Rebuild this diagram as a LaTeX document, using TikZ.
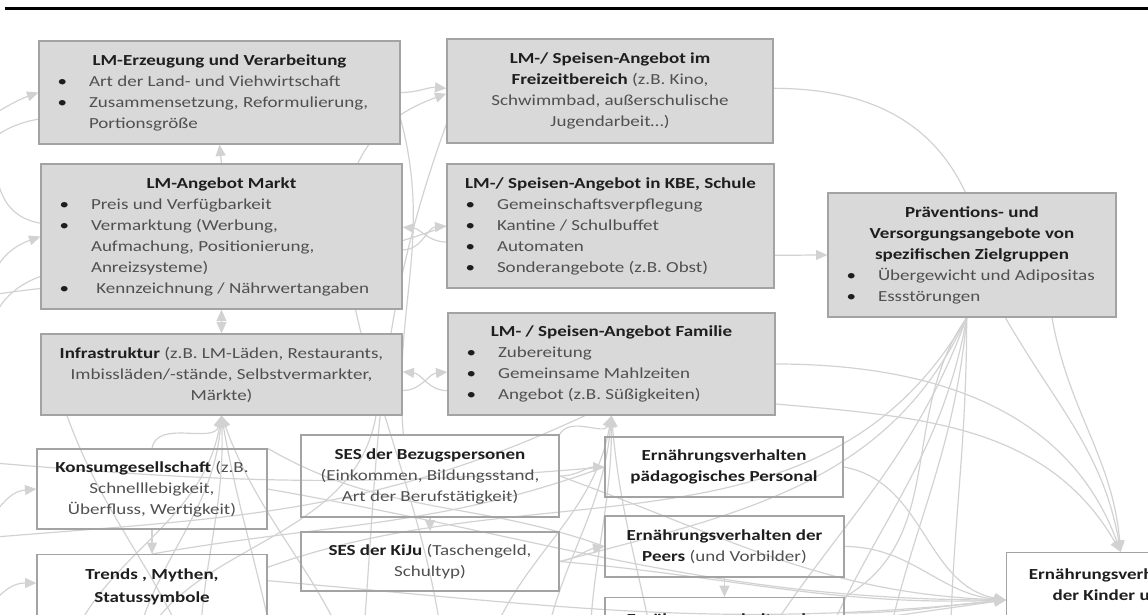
\documentclass[tikz,border=0pt]{standalone}
\usepackage{fontspec}
\setmainfont[FakeStretch=1.24]{Carlito}
\usetikzlibrary{arrows.meta}
\definecolor{boxfill}{HTML}{D9D9D9}
\definecolor{boxline}{HTML}{A3A3A3}
\definecolor{connc}{HTML}{D2D2D2}
\definecolor{titlec}{HTML}{1E1E1E}
\definecolor{bodyc}{HTML}{505050}
\pgfdeclarelayer{bg}
\pgfsetlayers{bg,main}
% bullet line, continuation line, bold title
\newcommand{\bl}[1]{\hspace*{14pt}\makebox[23.5pt][l]{\color{titlec}\textbullet}#1}
\newcommand{\ct}[1]{\hspace*{37.5pt}#1}
\newcommand{\tb}[1]{{\color{titlec}\bfseries #1}}
\tikzset{
  gbox/.style={draw=boxline, fill=boxfill, line width=1pt, inner sep=0pt, text=bodyc},
  wbox/.style={draw=boxline, line width=1pt, inner sep=0pt, text=bodyc},
  conn/.style={draw=connc, line width=0.9pt},
  arr/.style={-{Triangle[length=8.5pt,width=7.5pt]}},
  darr/.style={{Triangle[length=8.5pt,width=7.5pt]}-{Triangle[length=8.5pt,width=7.5pt]}},
}
\begin{document}
\begin{tikzpicture}[x=0.75pt,y=-0.75pt,font=\fontsize{11.5pt}{15.75pt}\selectfont]
\useasboundingbox (0,0) rectangle (1148,614);
\clip (0,0) rectangle (1148,614);

% rule at the top
\draw[line width=2.25pt] (5,8) -- (1148,8);

% ---------- gray boxes: food supply ----------
\node[gbox, minimum width=270.75pt, minimum height=77.25pt] (erz) at (219.5,92.5)
 {\parbox[c][77.25pt][c]{270.75pt}{{\centering\tb{LM-Erzeugung und Verarbeitung}\par}
  \bl{Art der Land- und Viehwirtschaft}\par
  \bl{Zusammensetzung, Reformulierung,}\par
  \ct{Portionsgröße}\par}};

\node[gbox, minimum width=270.75pt, minimum height=108.75pt] (markt) at (221.5,236.5)
 {\parbox[c][108.75pt][c]{270.75pt}{{\centering\tb{LM-Angebot Markt}\par}
  \bl{Preis und Verfügbarkeit}\par
  \bl{Vermarktung (Werbung,}\par
  \ct{Aufmachung, Positionierung,}\par
  \ct{Anreizsysteme)}\par
  \bl{\hspace{4pt}Kennzeichnung / Nährwertangaben}\par}};

\node[gbox, minimum width=270.75pt, minimum height=60.75pt] (infra) at (221.5,374.5)
 {\parbox[c][60.75pt][c]{270.75pt}{\centering
  \tb{Infrastruktur} (z.B. LM-Läden, Restaurants,\\
  Imbissläden/-stände, Selbstvermarkter,\\
  Märkte)\par}};

\node[gbox, minimum width=244.5pt, minimum height=78pt] (frei) at (610,91)
 {\parbox[c][78pt][c]{244.5pt}{\centering
  \tb{LM-/ Speisen-Angebot im}\\
  \tb{Freizeitbereich} (z.B. Kino,\\
  Schwimmbad, außerschulische\\
  Jugendarbeit…)\par}};

\node[gbox, minimum width=245.25pt, minimum height=93pt] (kbe) at (610.5,226)
 {\parbox[c][93pt][c]{245.25pt}{{\centering\tb{LM-/ Speisen-Angebot in KBE, Schule}\par}
  \bl{Gemeinschaftsverpflegung}\par
  \bl{Kantine / Schulbuffet}\par
  \bl{Automaten}\par
  \bl{Sonderangebote (z.B. Obst)}\par}};

\node[gbox, minimum width=245.25pt, minimum height=76.5pt] (fam) at (611.5,364)
 {\parbox[c][76.5pt][c]{245.25pt}{{\centering\tb{LM- / Speisen-Angebot Familie}\par}
  \bl{Zubereitung}\par
  \bl{Gemeinsame Mahlzeiten}\par
  \bl{Angebot (z.B. Süßigkeiten)}\par}};

\node[gbox, minimum width=216pt, minimum height=93pt] (praev) at (972,255)
 {\parbox[c][93pt][c]{216pt}{{\centering\tb{Präventions- und}\\
  \tb{Versorgungsangebote von}\\
  \tb{spezifischen Zielgruppen}\par}
  \bl{Übergewicht und Adipositas}\par
  \bl{Essstörungen}\par}};

% ---------- white boxes: social setting and behaviour ----------
\node[wbox, minimum width=172.5pt, minimum height=60pt] (kons) at (152,489)
 {\parbox[c][60pt][c]{172.5pt}{\centering
  \tb{Konsumgesellschaft} (z.B.\\
  Schnelllebigkeit,\\
  Überfluss, Wertigkeit)\par}};

\node[wbox, anchor=north, minimum width=172.5pt, minimum height=90pt] (trends) at (152,554)
 {\parbox[t][90pt][t]{172.5pt}{\centering\vspace*{10.5pt}
  \tb{Trends , Mythen,}\\[1.5pt]
  \tb{Statussymbole}\par}};

\node[wbox, minimum width=193.5pt, minimum height=61.5pt] (sesb) at (430,476)
 {\parbox[c][61.5pt][c]{193.5pt}{\centering
  \tb{SES der Bezugspersonen}\\
  (Einkommen, Bildungsstand,\\
  Art der Berufstätigkeit)\par}};

\node[wbox, minimum width=193.5pt, minimum height=44.25pt] (sesk) at (430,561.5)
 {\parbox[c][44.25pt][c]{193.5pt}{\centering
  \tb{SES der KiJu} (Taschengeld,\\
  Schultyp)\par}};

\node[wbox, minimum width=178.5pt, minimum height=45pt] (paed) at (724,467)
 {\parbox[c][45pt][c]{178.5pt}{\centering
  \tb{Ernährungsverhalten}\\
  \tb{pädagogisches Personal}\par}};

\node[wbox, minimum width=179.25pt, minimum height=45.75pt] (peers) at (724.5,546.5)
 {\parbox[c][45.75pt][c]{179.25pt}{\centering
  \tb{Ernährungsverhalten der}\\
  \tb{Peers} (und Vorbilder)\par}};

\node[wbox, anchor=north, minimum width=179.25pt, minimum height=60pt] (efam) at (724.5,597)
 {\parbox[t][60pt][t]{179.25pt}{\centering\vspace*{12pt}
  \tb{Ernährungsverhalten der}\par}};

\node[wbox, fill=white, anchor=north west, minimum width=157pt, minimum height=80pt] (ekind) at (1006,552)
 {\parbox[t][80pt][t]{157pt}{\centering\vspace*{12pt}
  \tb{Ernährungsverhalten}\\
  \tb{der Kinder und}\par}};

% ---------- ends of connectors beyond the visible part ----------
\coordinate (w1) at (-40,130);
\coordinate (w2) at (-40,300);
\coordinate (w3) at (-40,460);
\coordinate (w4) at (-40,540);
\coordinate (w5) at (-40,630);
\coordinate (w6) at (-40,20);
\coordinate (s1) at (60,680);
\coordinate (s2) at (130,680);
\coordinate (s3) at (200,680);
\coordinate (s4) at (280,680);
\coordinate (s5) at (360,680);
\coordinate (s6) at (445,680);
\coordinate (s7) at (480,680);
\coordinate (s8) at (540,680);
\coordinate (s9) at (590,680);
\coordinate (s10) at (660,680);
\coordinate (s11) at (740,680);
\coordinate (s12) at (810,680);
\coordinate (s13) at (880,680);
\coordinate (s14) at (950,680);

\begin{pgfonlayer}{bg}
\clip (0,0) rectangle (1148,614);
% upper row
\draw[conn,arr] (erz.east) to[out=0,in=175] ([yshift=2pt]frei.west);
\draw[conn,arr] (s6) to[out=92,in=200] ([yshift=-2pt]frei.west);
\draw[conn,arr] ([yshift=-10pt]markt.east) to[out=0,in=185] (kbe.west);
\draw[conn,arr] ([yshift=-12pt]kbe.west) to[out=180,in=-5] ([yshift=7pt]markt.east);
\draw[conn,arr] ([yshift=-12pt]infra.east) to[out=0,in=185] ([yshift=-6pt]fam.west);
\draw[conn,arr] ([yshift=-20pt]fam.west) to[out=180,in=-5] ([yshift=2pt]infra.east);
\draw[conn,arr] (markt.north) -- (erz.south);
\draw[conn,darr] (infra.north) -- (markt.south);
\draw[conn,arr] ([yshift=-22pt]kbe.east) to[out=0,in=180] (praev.west);
\draw[conn] ([yshift=2pt]frei.east) to[out=0,in=115] ([xshift=-5pt]praev.north);
\draw[conn] ([yshift=-20pt]erz.east) to[out=-75,in=95] ([xshift=-20pt]sesb.north);
\draw[conn] ([yshift=-25pt]frei.west) to[out=-110,in=85] (s5);
% towards the children's behaviour
\draw[conn,arr] ([xshift=60pt]praev.south) to[out=-80,in=95] ([xshift=7pt]ekind.north);
\draw[conn,arr] ([xshift=25pt]praev.south) to[out=-60,in=100] ([xshift=7pt]ekind.north);
\draw[conn,arr] (fam.east) to[out=0,in=110] ([xshift=7pt]ekind.north);
\draw[conn,arr] ([yshift=-30pt]fam.east) to[out=-5,in=120] ([xshift=7pt]ekind.north);
\draw[conn,arr] (paed.east) to[out=-10,in=170] ([yshift=-36pt]ekind.north west);
\draw[conn,arr] (peers.east) to[out=0,in=175] ([yshift=-36pt]ekind.north west);
\draw[conn,arr] ([yshift=-12pt]efam.north east) to[out=0,in=185] ([yshift=-36pt]ekind.north west);
\draw[conn,arr] (sesk.east) to[out=-5,in=182] ([yshift=-36pt]ekind.north west);
\draw[conn,arr] (sesb.east) to[out=-20,in=178] ([yshift=-36pt]ekind.north west);
\draw[conn,arr] (kons.east) to[out=-10,in=180] ([yshift=-36pt]ekind.north west);
\draw[conn,arr] ([yshift=-20pt]trends.north east) to[out=-5,in=186] ([yshift=-36pt]ekind.north west);
\draw[conn,arr] (w5) to[out=-10,in=188] ([yshift=-36pt]ekind.north west);
% fanning out below the prevention box
\draw[conn] ([xshift=-4pt]praev.south) to[out=-115,in=15] (sesk.east);
\draw[conn] ([xshift=-4pt]praev.south) to[out=-120,in=20] ([yshift=-10pt]trends.north east);
\draw[conn] ([xshift=-4pt]praev.south) to[out=-110,in=60] (s11);
\draw[conn] ([xshift=-4pt]praev.south) to[out=-100,in=70] (s12);
\draw[conn] ([xshift=-4pt]praev.south) to[out=-95,in=80] (s13);
\draw[conn] ([xshift=-4pt]praev.south) to[out=-90,in=90] (s14);
\draw[conn] ([xshift=-4pt]praev.south) to[out=-125,in=30] (efam.north east);
% left margin
\draw[conn,arr] (w1) to[out=20,in=200] (erz.west);
\draw[conn,arr] (w3) to[out=60,in=200] (markt.west);
\draw[conn,arr] (w4) to[out=20,in=185] (kons.west);
\draw[conn,arr] (w5) to[out=30,in=180] ([yshift=-21.75pt]trends.north west);
\draw[conn] (w6) to[out=-40,in=170] ([yshift=10pt]markt.west);
\draw[conn] (w2) to[out=10,in=200] (kbe.west);
\draw[conn] ([yshift=-20pt]erz.west) to[out=190,in=80] (w3);
\draw[conn] ([yshift=-30pt]markt.west) to[out=200,in=60] (w4);
% from below into the infrastructure box
\draw[conn,arr] (s1) to[out=80,in=-100] (infra.south);
\draw[conn,arr] (s2) to[out=85,in=-95] (infra.south);
\draw[conn,arr] (s3) to[out=92,in=-88] (infra.south);
\draw[conn,arr] (s4) to[out=100,in=-80] (infra.south);
\draw[conn,arr] (s5) to[out=110,in=-70] (infra.south);
\draw[conn,arr] (kons.north) to[out=80,in=-105] (infra.south);
% from below into the family box
\draw[conn,arr] (s7) to[out=80,in=-100] (fam.south);
\draw[conn,arr] (s8) to[out=85,in=-95] (fam.south);
\draw[conn,arr] (s9) to[out=92,in=-90] (fam.south);
\draw[conn,arr] (s10) to[out=100,in=-85] (fam.south);
\draw[conn,arr] (sesb.north east) to[out=60,in=-110] (fam.south);
% among the lower boxes
\draw[conn,arr] (sesb.south) -- (sesk.north);
\draw[conn,arr] (kons.south) -- (trends.north);
\draw[conn,arr] (sesb.east) to[out=0,in=180] (paed.west);
\draw[conn,arr] (sesk.east) to[out=10,in=190] (peers.west);
\draw[conn,arr] (peers.south) -- (efam.north);
\draw[conn] (w3) to[out=-5,in=185] (paed.west);
\draw[conn] (w4) to[out=5,in=205] ([xshift=-20pt]fam.south);
\draw[conn] ([xshift=20pt]infra.south west) to[out=-70,in=110] (s3);
\draw[conn] ([xshift=-20pt]infra.south east) to[out=-100,in=80] (s2);
\draw[conn] (kons.north east) to[out=-30,in=160] (peers.west);
\draw[conn] (trends.north) to[out=10,in=200] (paed.west);
\end{pgfonlayer}
\end{tikzpicture}
\end{document}
